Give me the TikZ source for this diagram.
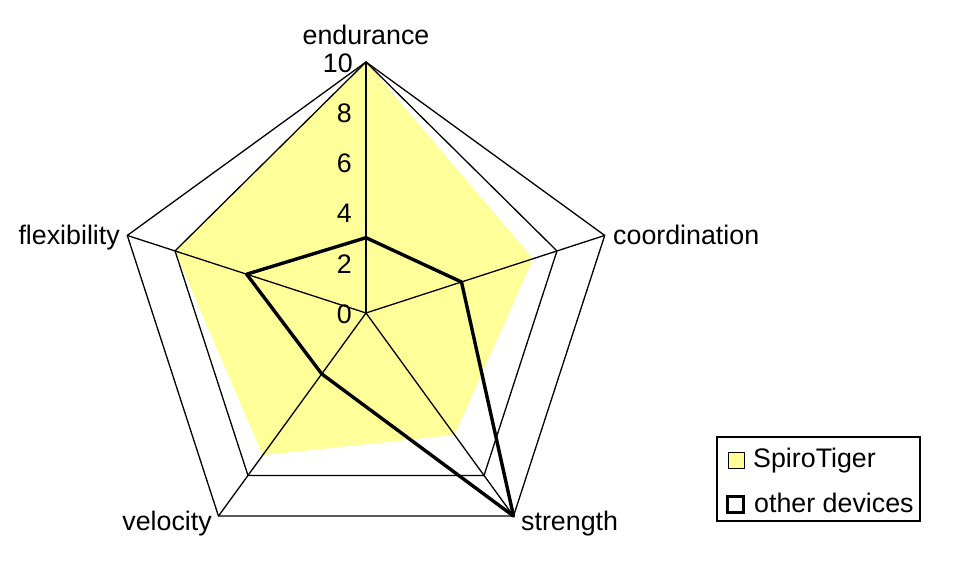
\documentclass[tikz,border=0pt]{standalone}
\usepackage{fontspec}
\setmainfont{Liberation Sans}
\usetikzlibrary{calc}
\definecolor{spiro}{RGB}{255,255,153}
\begin{document}
\begin{tikzpicture}[x=1pt,y=1pt,
  lbl/.style={font=\fontsize{26.8}{31}\selectfont, inner sep=0pt},
  gridline/.style={draw=black, line width=1.3pt},
  otherline/.style={draw=black, line width=3.4pt, line join=round},
  legbox/.style={draw=black, line width=1.4pt, inner sep=0pt, minimum width=203pt, minimum height=84pt}]
\useasboundingbox (0,0) rectangle (980,574);
\fill[white] (0,0) rectangle (980,574);
\coordinate (O) at (366,261);
% axis end points and value points
\coordinate (e10) at ($(O)+(90:251)$);
\coordinate (c10) at ($(O)+(18:251)$);
\coordinate (s10) at ($(O)+(-54:251)$);
\coordinate (v10) at ($(O)+(-126:251)$);
\coordinate (f10) at ($(O)+(162:251)$);
\coordinate (c8) at ($(O)+(18:200.8)$);
\coordinate (s8) at ($(O)+(-54:200.8)$);
\coordinate (v8) at ($(O)+(-126:200.8)$);
\coordinate (f8) at ($(O)+(162:200.8)$);
\coordinate (c7) at ($(O)+(18:175.7)$);
\coordinate (s6) at ($(O)+(-54:150.6)$);
\coordinate (v7) at ($(O)+(-126:175.7)$);
\coordinate (e3) at ($(O)+(90:75.3)$);
\coordinate (c4) at ($(O)+(18:100.4)$);
\coordinate (v3) at ($(O)+(-126:75.3)$);
\coordinate (f5) at ($(O)+(162:125.5)$);
% SpiroTiger filled area
\fill[spiro] (e10) -- (c7) -- (s6) -- (v7) -- (f8) -- cycle;
% outlines
\draw[gridline, line join=miter] (e10) -- (c10) -- (s10) -- (v10) -- (f10) -- cycle;
\draw[gridline, line join=miter] (e10) -- (c8) -- (s8) -- (v8) -- (f8) -- cycle;
% spokes
\draw[gridline] (O) -- (e10);
\draw[gridline] (O) -- (c10);
\draw[gridline] (O) -- (s10);
\draw[gridline] (O) -- (v10);
\draw[gridline] (O) -- (f10);
% other devices
\draw[otherline] (e3) -- (c4) -- (s10) -- (v3) -- (f5) -- cycle;
% axis values
\node[lbl, anchor=base east] (n0) at (352,251) {0};
\node[lbl, anchor=base east] (n2) at (352,301) {2};
\node[lbl, anchor=base east] (n4) at (352,351) {4};
\node[lbl, anchor=base east] (n6) at (352,401) {6};
\node[lbl, anchor=base east] (n8) at (352,451) {8};
\node[lbl, anchor=base east] (n10) at (353,501) {10};
% category labels
\node[lbl, anchor=base] (le) at (366,529) {endurance};
\node[lbl, anchor=base west] (lc) at (613,330) {coordination};
\node[lbl, anchor=base west] (ls) at (521,44) {strength};
\node[lbl, anchor=base east] (lv) at (212,44) {velocity};
\node[lbl, anchor=base east] (lf) at (120,330) {flexibility};
% legend
\node[legbox] (leg) at (818.5,95) {};
\node[draw=black, line width=1pt, fill=spiro, minimum size=16pt, inner sep=0pt] (k1) at (736,113.5) {};
\node[draw=black, line width=3pt, fill=white, minimum size=15.5pt, inner sep=0pt] (k2) at (735.5,69.5) {};
\node[lbl, anchor=base west] (t1) at (753,107) {SpiroTiger};
\node[lbl, anchor=base west] (t2) at (754,62) {other devices};
\end{tikzpicture}
\end{document}
